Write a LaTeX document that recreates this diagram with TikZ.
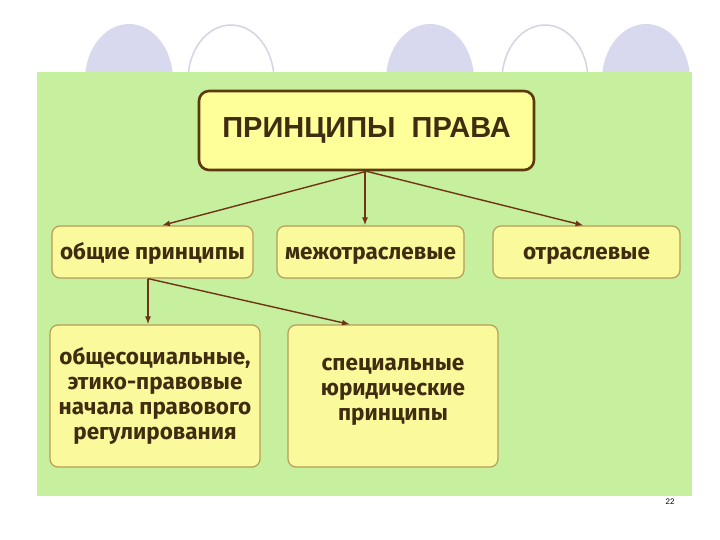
\documentclass[tikz,border=0pt]{standalone}
\usepackage{fontspec}
\usetikzlibrary{arrows.meta}
\newfontfamily\titlefont{Liberation Sans}
\newfontfamily\boxfont{Fira Sans}
\definecolor{bggreen}{HTML}{C6EF9E}
\definecolor{lavender}{HTML}{D8D8EE}
\definecolor{ringgray}{HTML}{D4D4E4}
\definecolor{boxyellow}{HTML}{FAFA9C}
\definecolor{titleyellow}{HTML}{FFFF99}
\definecolor{darkbrown}{HTML}{5C3A0E}
\definecolor{olive}{HTML}{B89C58}
\definecolor{textbrown}{HTML}{402C10}
\definecolor{arrowbrown}{HTML}{6E3414}
\begin{document}
\begin{tikzpicture}[x=1pt,y=-1pt,
  subbox/.style={draw=olive,line width=1.2pt,fill=boxyellow,rounded corners=8pt,
    text=textbrown,align=center,font=\boxfont\bfseries\fontsize{22.5}{25}\selectfont,
    inner sep=0pt},
  rowbox/.style={subbox,minimum height=52pt,text height=15pt,text depth=1pt},
  arr/.style={-{Latex[length=8pt,width=6pt]},arrowbrown,line width=1.4pt}]
  \useasboundingbox (0,0) rectangle (720,540);
  \fill[white] (0,0) rectangle (720,540);
  % Ovals behind the panel
  \foreach \cx in {129,430,646}
    \fill[lavender] (\cx,80) ellipse (44 and 56);
  \foreach \cx in {231,545}
    \draw[ringgray,line width=1.5pt,fill=white] (\cx,80) ellipse (43 and 55);
  \fill[bggreen] (37,72) rectangle (692,496);
  % Boxes
  \node[draw=darkbrown,line width=2.6pt,fill=titleyellow,rounded corners=10pt,
    minimum width=335pt,minimum height=79pt,text=textbrown,
    font=\titlefont\bfseries\fontsize{29}{32}\selectfont]
    (title) at (366.5,130.5) {ПРИНЦИПЫ\ \ ПРАВА};
  \node[rowbox,minimum width=201pt] (gen) at (152.5,252) {общие принципы};
  \node[rowbox,minimum width=187pt] (inter) at (370.5,252) {межотраслевые};
  \node[rowbox,minimum width=187pt] (branch) at (586.5,252) {отраслевые};
  \node[subbox,minimum width=210pt,minimum height=142pt] (soc) at (155,396)
    {общесоциальные,\\этико-правовые\\начала правового\\регулирования};
  \node[subbox,minimum width=210pt,minimum height=142pt] (spec) at (393,396)
    {специальные\\юридические\\принципы\\[-12pt]};
  % Arrows
  \draw[arr] (title.south) -- ([xshift=9.5pt]gen.north);
  \draw[arr] ([xshift=-1.5pt]title.south) -- ([xshift=-5.5pt]inter.north);
  \draw[arr] (title.south) -- ([xshift=-3pt]branch.north);
  \draw[arr] ([xshift=-4.5pt]gen.south) -- ([xshift=-7pt]soc.north);
  \draw[arr] ([xshift=-4.5pt]gen.south) -- ([xshift=-43pt]spec.north);
  % Slide number
  \node[font=\titlefont\fontsize{8}{9}\selectfont] (num) at (670,502) {22};
\end{tikzpicture}
\end{document}
